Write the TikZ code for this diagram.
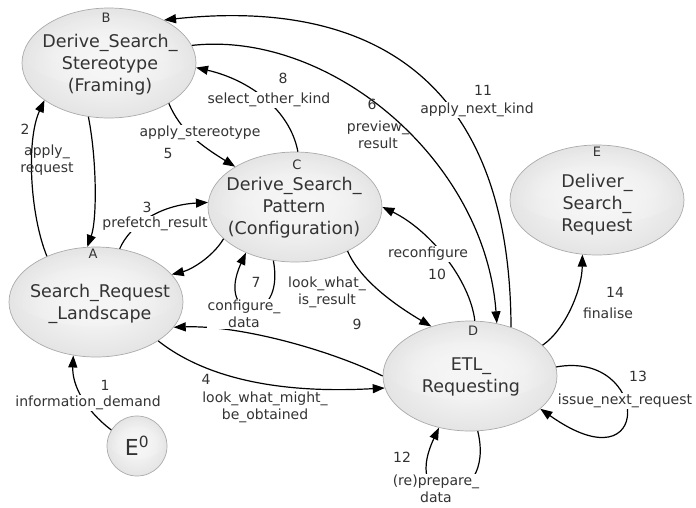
\documentclass[tikz,border=0pt]{standalone}
\usepackage{fontspec}
\setmainfont{DejaVu Sans}
\usetikzlibrary{shapes.geometric,arrows.meta,calc,fadings}
\definecolor{ink}{HTML}{333333}
\definecolor{rim}{HTML}{ABABAB}
\definecolor{gloss}{HTML}{F5F5F5}
% soft-edged glow used for the gloss on each state
\tikzfading[name=softglow, inner color=transparent!0, outer color=transparent!100]
\begin{document}
\begin{tikzpicture}[x=1pt,y=-1pt,
  shine/.style={path picture={\fill[gloss,path fading=softglow]
      ($(path picture bounding box.center)+(0,#1)$) ellipse [x radius=0.5*\pgfkeysvalueof{/pgf/minimum width}, y radius=0.33*\pgfkeysvalueof{/pgf/minimum height}];
      \fill[gloss,path fading=softglow]
      ($(path picture bounding box.center)+(0,#1)$) ellipse [x radius=0.42*\pgfkeysvalueof{/pgf/minimum width}, y radius=0.25*\pgfkeysvalueof{/pgf/minimum height}];}},
  state/.style={ellipse, draw=rim, line width=0.7pt, minimum width=174pt, minimum height=110pt,
      inner sep=0pt, shading=radial, inner color=gray!3, outer color=gray!21, shine=12pt},
  start/.style={circle, draw=rim, line width=0.7pt, minimum size=60pt, inner sep=0pt,
      shading=radial, inner color=gray!3, outer color=gray!21, shine=7pt},
  title/.style={font=\fontsize{17.5}{22}\selectfont, text=ink, align=center, inner sep=0pt},
  tag/.style={font=\fontsize{13}{13}\selectfont, text=ink, inner sep=0pt},
  lbl/.style={font=\fontsize{14}{17}\selectfont, text=ink, align=center, inner sep=1pt},
  lblw/.style={lbl, fill=white},
  conn/.style={draw=black, line width=1.2pt, -{Triangle[length=12pt,width=9pt]}}]
\useasboundingbox (0,0) rectangle (696,507);

% states
\node[state] (B) at (109,63) {};
\node[state] (C) at (295,207) {};
\node[state] (A) at (96,302) {};
\node[state] (D) at (470,376) {};
\node[state] (E) at (597,200) {};
\node[start] (E0) at (137,446) {};

% state titles and letters
\node[title] (Bt) at (110,65) {Derive\_Search\_\\Stereotype\\(Framing)};
\node[title] (Ct) at (294,208) {Derive\_Search\_\\Pattern\\(Configuration)};
\node[title] (At) at (100,304) {Search\_Request\\\_Landscape};
\node[title] (Dt) at (471,377) {ETL\_\\Requesting};
\node[title] (Et) at (597,205) {Deliver\_\\Search\_\\Request};
\node[title, font=\fontsize{22}{22}\selectfont] (E0t) at (137,446) {E\textsuperscript{0}};
\node[tag] (Bl) at (106,18) {B};
\node[tag] (Cl) at (297,165) {C};
\node[tag] (Al) at (93,254) {A};
\node[tag] (Dl) at (473,331) {D};
\node[tag] (El) at (597,152) {E};

% transitions
\draw[conn] (B.-111) .. controls (97,160) and (97,220) .. (A.99);
\draw[conn] (A.137) .. controls (30,215) and (26,140) .. (B.-150);
\draw[conn] (B.-34) .. controls (180,130) and (200,145) .. (C.146);
\draw[conn] (A.66) .. controls (130,225) and (160,205) .. (C.177);
\draw[conn] (C.-156) .. controls (212,258) and (190,270) .. (A.20);
\draw[conn] (C.87) .. controls (290,110) and (250,80) .. (B.-3);
\draw[conn] (B.12) .. controls (330,30) and (485,160) .. (D.63);
\draw[conn] (D.50) .. controls (510,60) and (350,0) .. (B.38);
\draw[conn] (D.85) .. controls (470,280) and (430,230) .. (C.0);
\draw[conn] (C.-40) .. controls (360,280) and (395,305) .. (D.128);
\draw[conn] (D.180) .. controls (330,350) and (240,325) .. (A.-18);
\draw[conn] (A.-32) .. controls (195,370) and (260,395) .. (D.188);
\draw[conn] (E0.148) .. controls (85,410) and (72,385) .. (A.-113);
\draw[conn] (D.23) .. controls (565,330) and (582,290) .. (E.-105);
\draw[conn] (D.6) .. controls (650,350) and (655,490) .. (D.-25);
\draw[conn] (D.-82) .. controls (497,510) and (398,515) .. (D.-121);
\draw[conn] (C.-112) .. controls (286,328) and (214,322) .. (C.-137);

% transition labels
\node[lbl] (l1n) at (105,385) {1};
\node[lblw] (l1) at (88,403) {information\_demand};
\node[lbl] (l2n) at (25,129) {2};
\node[lbl] (l2) at (47,160) {apply\_\\request};
\node[lblw] (l3n) at (147,207) {3};
\node[lblw] (l3) at (155,224) {prefetch\_result};
\node[lbl] (l4n) at (206,379) {4};
\node[lbl] (l4) at (265,407) {look\_what\_might\_\\be\_obtained};
\node[lblw] (l5) at (200,133) {apply\_stereotype};
\node[lbl] (l5n) at (168,153) {5};
\node[lbl] (l6n) at (372,104) {6};
\node[lbl] (l6) at (378,135) {preview\_\\result};
\node[lbl] (l7n) at (256,282) {7};
\node[lblw] (l7) at (244,314) {configure\_\\data};
\node[lbl] (l8n) at (283,78) {8};
\node[lblw] (l8) at (269,100) {select\_other\_kind};
\node[lbl] (l9) at (327,292) {look\_what\_\\is\_result};
\node[lbl] (l9n) at (357,324) {9};
\node[lblw] (l10) at (428,254) {reconfigure};
\node[lbl] (l10n) at (437,274) {10};
\node[lbl] (l11n) at (483,90) {11};
\node[lblw] (l11) at (477,110) {apply\_next\_kind};
\node[lbl] (l12n) at (402,457) {12};
\node[lblw] (l12) at (436,489) {(re)prepare\_\\data};
\node[lbl] (l13n) at (638,376) {13};
\node[lblw] (l13) at (625,401) {issue\_next\_request};
\node[lbl] (l14n) at (615,292) {14};
\node[lbl] (l14) at (608,313) {finalise};
\end{tikzpicture}
\end{document}
